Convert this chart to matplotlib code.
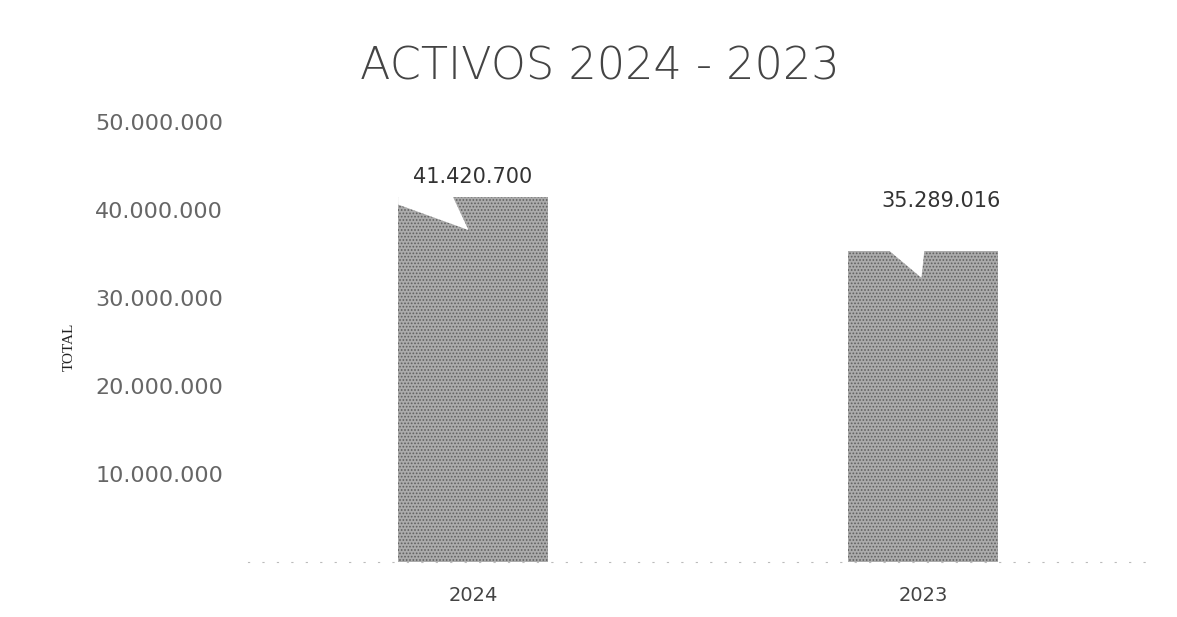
import matplotlib
matplotlib.use("Agg")
import matplotlib.pyplot as plt
from matplotlib.patches import Polygon

years = ["2024", "2023"]
totals = [41420700, 35289016]
y_ticks = [10000000, 20000000, 30000000, 40000000, 50000000]


def fmt_dots(v):
    return f"{v:,.0f}".replace(",", ".")


plt.rcParams["hatch.linewidth"] = 0.8

fig = plt.figure(figsize=(11.77, 6.17), dpi=100)
ax = fig.add_axes([248 / 1177, 1 - 562 / 617, 900 / 1177, (562 - 122) / 617])

x = range(len(years))
bar_w = 0.333
ax.bar(x, totals, width=bar_w, color="#ababab", edgecolor="#5f5f5f",
       linewidth=0, hatch=".....", zorder=2)

ax.set_xlim(-0.5, 1.5)
ax.set_ylim(0, 50000000)

# callout pointers cutting into the bar tops (offsets relative to each bar)
pointers = [
    (-0.5, -0.03, -0.14, 800000, 3700000),
    (-0.22, -0.01, 0.01, 0, 3000000),
]
for xi, val, (a, t, c, dl, dt) in zip(x, totals, pointers):
    poly = [
        (xi + a * bar_w, val + 300000),
        (xi + a * bar_w, val - dl),
        (xi + t * bar_w, val - dt),
        (xi + c * bar_w, val + 300000),
    ]
    ax.add_patch(Polygon(poly, closed=True, facecolor="white",
                         edgecolor="none", zorder=3))

label_dx = [0.0, 0.04]
label_dy = [2300000, 5700000]
for xi, val, dx, dy in zip(x, totals, label_dx, label_dy):
    ax.text(xi + dx, val + dy, fmt_dots(val), ha="center", va="center",
            fontsize=15, color="#333333", family="DejaVu Sans")

ax.set_yticks(y_ticks)
ax.set_yticklabels([fmt_dots(v) for v in y_ticks], fontsize=16,
                   color="#666666", family="DejaVu Sans")
ax.set_xticks(list(x))
ax.set_xticklabels(years, fontsize=14, color="#444444", family="DejaVu Sans")
ax.tick_params(axis="y", length=0, pad=18)
ax.tick_params(axis="x", length=0, pad=17)

for s in ["top", "right", "left"]:
    ax.spines[s].set_visible(False)
ax.spines["bottom"].set_color("#bbbbbb")
ax.spines["bottom"].set_linestyle((0, (1, 12)))
ax.spines["bottom"].set_linewidth(0.8)

ax.set_ylabel("TOTAL", family="Liberation Serif", fontsize=11, color="#222222",
              labelpad=0)
ax.yaxis.set_label_coords(-172 / 900, 0.49)

fig.text(600 / 1177, 1 - 67 / 617, "ACTIVOS 2024 - 2023", ha="center",
         va="center", fontsize=32, color="#444444", family="DejaVu Sans",
         fontweight="light")

fig.savefig("out.png", dpi=100, facecolor="white")
